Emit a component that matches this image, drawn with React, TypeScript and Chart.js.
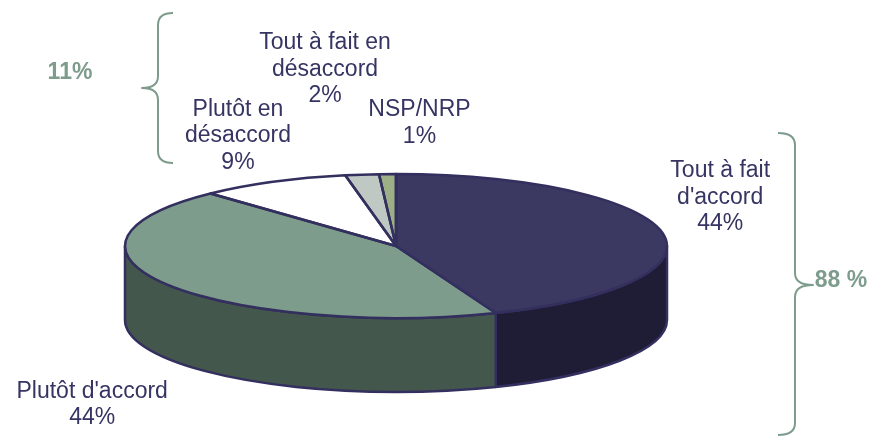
import { useEffect, useRef } from "react";
import { Chart, registerables } from "chart.js";

Chart.register(...registerables);

const categories = [
  "Tout à fait d'accord",
  "Plutôt d'accord",
  "Plutôt en désaccord",
  "Tout à fait en désaccord",
  "NSP/NRP",
];
const values = [44, 44, 9, 2, 1];
const labelNameLines = [
  ["Tout à fait", "d'accord"],
  ["Plutôt d'accord"],
  ["Plutôt en", "désaccord"],
  ["Tout à fait en", "désaccord"],
  ["NSP/NRP"],
];
const topColors = ["#3B3961", "#7E9C8C", "#FFFFFF", "#C0C8C4", "#9DAF86"];
const sideColors = ["#1F1D35", "#44574C", "#E4E4E4", "#A0A8A4", "#7E9068"];
// label block offset from the slice's mid-angle rim point
const labelOffsets = [
  [58, -35],
  [-75, 120],
  [-35, -46],
  [-37, -105],
  [32, -51],
];
const groupLabels = ["11%", "88 %"];

const TILT = 72 / 271;
const OUTLINE = "#332F5E";
const TEXT = "#363462";
const GROUP = "#7E9C8C";

function geom(a: any) {
  const rx = (a.right - a.left) / 2;
  const cx = (a.left + a.right) / 2;
  const ry = rx * TILT;
  const cy = a.top + ry;
  const depth = a.bottom - a.top - 2 * ry;
  return { cx, cy, rx, ry, depth };
}

function brace(ctx: any, endX: number, spineX: number, tipX: number, y1: number, y2: number, mid: number) {
  const r = 12;
  ctx.beginPath();
  ctx.moveTo(endX, y1);
  ctx.quadraticCurveTo(spineX, y1, spineX, y1 + r);
  ctx.lineTo(spineX, mid - r);
  ctx.quadraticCurveTo(spineX, mid, tipX, mid);
  ctx.quadraticCurveTo(spineX, mid, spineX, mid + r);
  ctx.lineTo(spineX, y2 - r);
  ctx.quadraticCurveTo(spineX, y2, endX, y2);
  ctx.stroke();
}

const pie3d = {
  id: "pie3d",
  beforeDatasetsDraw(chart: any) {
    const { ctx, chartArea } = chart;
    const g = geom(chartArea);
    const meta = chart.getDatasetMeta(0);
    ctx.save();
    ctx.lineWidth = 2.5;
    ctx.strokeStyle = OUTLINE;
    ctx.lineJoin = "round";
    meta.data.forEach((arc: any, i: number) => {
      const { startAngle, endAngle } = arc.getProps(["startAngle", "endAngle"], true);
      for (let k = -2; k <= 2; k++) {
        const lo = Math.max(startAngle, k * 2 * Math.PI);
        const hi = Math.min(endAngle, k * 2 * Math.PI + Math.PI);
        if (hi > lo) {
          ctx.beginPath();
          ctx.ellipse(g.cx, g.cy, g.rx, g.ry, 0, lo, hi, false);
          ctx.ellipse(g.cx, g.cy + g.depth, g.rx, g.ry, 0, hi, lo, true);
          ctx.closePath();
          ctx.fillStyle = sideColors[i];
          ctx.fill();
          ctx.stroke();
        }
      }
    });
    ctx.restore();
    const a0 = meta.data[0].getProps(["x", "y", "outerRadius"], true);
    ctx.save();
    ctx.translate(g.cx, g.cy);
    ctx.scale(g.rx / a0.outerRadius, g.ry / a0.outerRadius);
    ctx.translate(-a0.x, -a0.y);
  },
  afterDatasetsDraw(chart: any) {
    const { ctx, chartArea } = chart;
    ctx.restore();
    const g = geom(chartArea);
    const meta = chart.getDatasetMeta(0);
    ctx.save();
    ctx.lineWidth = 2.5;
    ctx.strokeStyle = OUTLINE;
    ctx.lineJoin = "round";
    meta.data.forEach((arc: any) => {
      const { startAngle, endAngle } = arc.getProps(["startAngle", "endAngle"], true);
      ctx.beginPath();
      ctx.moveTo(g.cx, g.cy);
      ctx.ellipse(g.cx, g.cy, g.rx, g.ry, 0, startAngle, endAngle, false);
      ctx.closePath();
      ctx.stroke();
    });
    // labels
    ctx.fillStyle = TEXT;
    ctx.font = "23px 'Liberation Sans', Arial, sans-serif";
    ctx.textAlign = "center";
    ctx.textBaseline = "middle";
    const lh = 26.5;
    meta.data.forEach((arc: any, i: number) => {
      const { startAngle, endAngle } = arc.getProps(["startAngle", "endAngle"], true);
      const m = (startAngle + endAngle) / 2;
      const px = g.cx + g.rx * Math.cos(m) + labelOffsets[i][0];
      const py = g.cy + g.ry * Math.sin(m) + labelOffsets[i][1];
      const lines = [...labelNameLines[i], `${values[i]}%`];
      const y0 = py - ((lines.length - 1) * lh) / 2;
      lines.forEach((t, j) => ctx.fillText(t, px, y0 + j * lh));
    });
    // group braces
    ctx.strokeStyle = GROUP;
    ctx.lineWidth = 2;
    brace(ctx, 173, 158, 142, 13, 163, 88);
    brace(ctx, 778, 795, 813, 133, 435, 285);
    ctx.fillStyle = GROUP;
    ctx.font = "bold 23px 'Liberation Sans', Arial, sans-serif";
    ctx.fillText(groupLabels[0], 70, 73);
    ctx.fillText(groupLabels[1], 841, 281);
    ctx.restore();
  },
};

export default function App() {
  const ref = useRef<HTMLCanvasElement | null>(null);
  useEffect(() => {
    if (!ref.current) return;
    const chart = new Chart(ref.current, {
      type: "pie",
      data: {
        labels: categories,
        datasets: [
          {
            data: values,
            backgroundColor: topColors,
            borderWidth: 0,
            clip: false as any,
          },
        ],
      },
      options: {
        animation: false,
        responsive: false,
        layout: { padding: { left: 125, right: 223, top: 174, bottom: 45 } },
        plugins: { legend: { display: false }, tooltip: { enabled: false } },
        events: [],
      },
      plugins: [pie3d],
    });
    return () => chart.destroy();
  }, []);
  return (
    <div style={{ position: "absolute", left: 0, top: 0, width: 890, height: 437, background: "#fff" }}>
      <canvas ref={ref} width={890} height={437} />
    </div>
  );
}
